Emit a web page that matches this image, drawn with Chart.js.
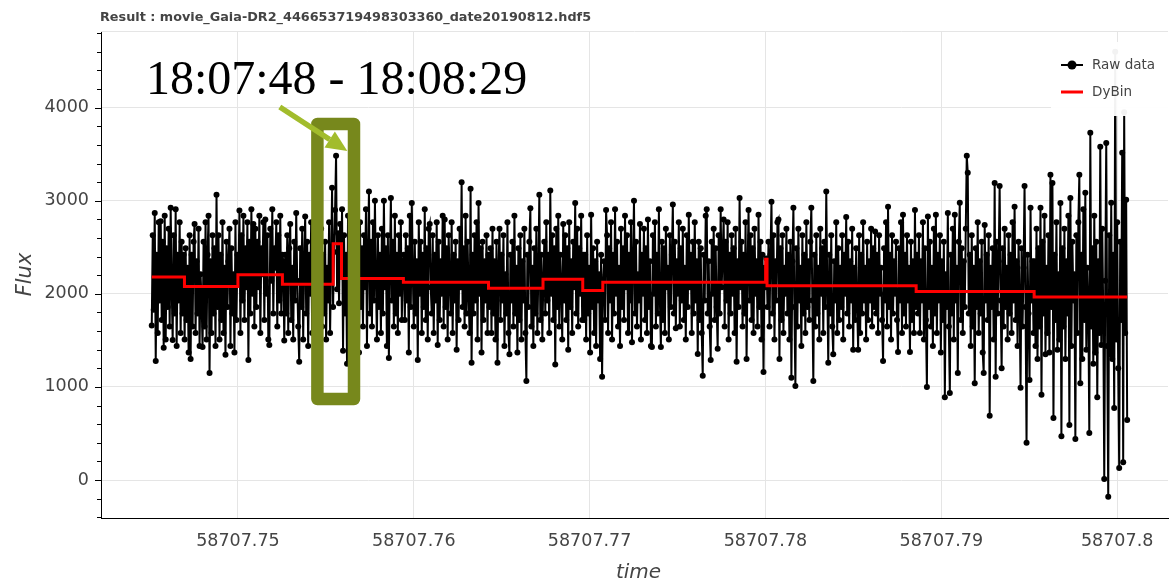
<!DOCTYPE html>
<html>
<head>
<meta charset="utf-8">
<title>Result : movie_Gaia-DR2_446653719498303360_date20190812.hdf5</title>
<script src="https://cdn.jsdelivr.net/npm/chart.js@4.4.1/dist/chart.umd.min.js"></script>
<style>
  html, body { margin: 0; padding: 0; background: #ffffff; }
  #wrap { position: relative; width: 1171px; height: 581px; }
</style>
</head>
<body>
<div id="wrap"><canvas id="lc" width="1171" height="581"></canvas></div>
<script>
// ---- texts ----
const plotTitle = 'Result : movie_Gaia-DR2_446653719498303360_date20190812.hdf5';
const burstLabel = '18:07:48 - 18:08:29';
const xAxisTitle = 'time';
const yAxisTitle = 'Flux';
const legendLabels = ['Raw data', 'DyBin'];

// ---- raw light curve (MJD, regular cadence) ----
const rawStart = 58707.74510;
const rawCadence = 0.00005666;
const rawFlux = [
  // 58707.7451 - 58707.7470
  1660, 2630, 1830, 2870, 1280, 2420, 1580, 2770, 1930, 2780,
  1720, 2560, 1420, 2840, 1510, 2490, 1860, 2700, 1650, 2925,
  2070, 1505, 2630, 1790, 2910, 1440, 2420, 1930, 2770, 1580,
  2560, 1790, 2420,
  // 58707.7470 - 58707.7500
  1510, 2490, 1720, 2280, 1370, 2630, 1300, 2420, 1650, 2560,
  2750, 1580, 2350, 1790, 2700, 1440, 2210, 1930, 1430, 2560,
  1650, 2770, 1510, 2420, 2840, 1150, 2350, 1580, 2630, 1790,
  2490, 1440, 3065, 1860, 2630, 1510, 2420, 1720, 2770, 1580,
  2280, 1345, 2560, 1860, 2350, 2700, 1440, 2490, 1790, 2210,
  1370, 2770, 1720, 2420,
  // 58707.7500 - 58707.7525
  2140, 2895, 1580, 2630, 1930, 2840, 1720, 2490, 2070, 2770,
  1290, 2560, 1790, 2910, 2000, 2750, 1650, 2700, 1860, 2560,
  2070, 2840, 1580, 2490, 2210, 2770, 1720, 2800, 2000, 2630,
  1510, 1450, 2700, 2140, 2910, 1790, 2490, 2280, 2770, 1650,
  2630, 1930, 2840, 1790, 2420,
  // 58707.7525 - 18:07:48
  2350, 1500, 2420, 1790, 2630, 1580, 2490, 2750, 1720, 2280,
  1510, 2560, 1930, 2870, 2140, 1650, 1270, 2490, 1860, 2700,
  1510, 2350, 2830, 1790, 2560, 1440, 2420, 2000, 2770, 1580,
  2210, 1860, 2630, 1370, 2490, 1400, 2350, 2000, 2700, 1650,
  2420, 1790, 2560, 1510, 2280, 1930, 2770, 1580, 2350, 3140,
  1860,
  // 18:07:48 - 18:08:29 (burst)
  2450, 2900, 3485, 2050, 2650, 1900, 2750, 2200,
  // 18:08:29 - 58707.7594
  2910, 1390, 2630, 1790, 2420, 1250, 2840, 1930, 2490, 1580,
  2700, 1720, 2350, 1510, 2980, 2000, 2560, 1370, 2770, 1860,
  2490, 1650, 2630, 2070, 2910, 1440, 2420, 3100, 1790, 2560,
  1650, 2770, 1930, 3000, 2140, 1510, 2630, 1860, 2420, 1580,
  2700, 1790, 3000, 2070, 2490, 1440, 2630, 1310, 2280, 3030,
  1930, 2560, 1650, 2840, 1790, 2420, 1580, 2630, 2000, 2770,
  1720, 2350,
  // 58707.7594 - 58707.7643
  2420, 1720, 2630, 1930, 2490, 1370, 2840, 1860, 2975, 2210,
  1650, 2560, 1790, 2350, 1290, 2770, 2000, 2560, 1580, 2420,
  1860, 2910, 1720, 2490, 1510, 2700, 2750, 2070, 1790, 2630,
  1580, 2420, 1930, 2770, 1450, 2560, 1720, 2350, 2000, 2840,
  1650, 2800, 1860, 2490, 1510, 2630, 2140, 1790, 2770, 1580,
  2420, 1930, 2560, 1400, 2350, 1720, 2700, 2070, 3200, 1860,
  2490, 1650, 2840, 1790, 2560, 2000, 1580, 3130, 1260, 2420,
  1790, 2630, 1930, 2770, 1510, 2975, 2000, 2490, 1370, 2560,
  1720, 2350, 1930, 2630, 1580, 2420,
  // 58707.7643 - 58707.7674
  1860, 2490, 1580, 2700, 1790, 2350, 1510, 2560, 1260, 2280,
  2700, 1720, 2420, 1930, 2630, 1440, 2210, 1790, 2770, 1580,
  1350, 2420, 1930, 2560, 1650, 2840, 1790, 2280, 1370, 2490,
  1720, 2630, 1510, 2350, 1930, 2700, 1580, 1065, 2420, 1860,
  2560, 2920, 1650, 2280, 1440, 2490, 1790, 2700, 1580, 2210,
  3065, 1720, 2420, 1510, 2140,
  // 58707.7674 - 58707.7696
  2560, 1790, 2770, 1930, 2420, 1580, 3110, 2000, 2630, 1720,
  2490, 1240, 2700, 1860, 2840, 1650, 2420, 2070, 1510, 2750,
  1930, 2630, 1720, 2490, 1400, 2770, 1860, 2350, 1580, 2560,
  2070, 2975, 1790, 2700, 1650, 2490, 2000, 2840, 1720, 2420,
  // 58707.7696 - 58707.7708
  1720, 2420, 1510, 2630, 1790, 2280, 1370, 2850, 1860, 2490,
  1580, 2350, 1440, 2560, 1930, 2210, 1300, 2420, 1110, 2140,
  // 58707.7708 - 58707.7800
  2350, 1720, 2900, 2630, 1580, 2490, 1930, 2770, 1510, 2420,
  1790, 2910, 2000, 2560, 1650, 2280, 1440, 2700, 1860, 2490,
  1720, 2840, 2070, 2630, 1580, 2420, 1930, 2770, 1480, 2350,
  3000, 1790, 2560, 1650, 2210, 1930, 2750, 1510, 2420, 2000,
  2700, 1720, 2490, 1580, 2800, 1860, 2350, 1440, 1430, 2630,
  2000, 2770, 1650, 2420, 1790, 2910, 1930, 1430, 2560, 1720,
  2490, 1580, 2700, 2070, 2280, 1510, 2630, 1860, 2420, 2960,
  1790, 2560, 1630, 2350, 2000, 2770, 1650, 2490, 1930, 2700,
  1720, 2280, 1510, 2630, 1860, 2850, 2070, 2420, 1580, 2560,
  1790, 2770, 1930, 2350, 1355, 2560, 1720, 2490, 1580, 1120,
  2420, 1930, 2840, 2910, 1790, 2350, 1650, 1290, 2560, 2000,
  2700, 1720, 2490, 1860, 1410, 2630, 1790, 2910, 2070, 2420,
  2800, 1650, 2560, 1930, 2770, 1510, 2420, 1790, 2630, 2000,
  2490, 1580, 2700, 1270, 2350, 1860, 3030, 2070, 2560, 1650,
  2420, 1790, 2770, 1300, 2280, 2900, 1930, 2630, 1720, 2490,
  1580, 2700, 2000, 2350, 1650, 2850, 1860, 2560, 1510, 2420,
  1160, 2280, 2070,
  // short bin at 58707.7800
  2380,
  // 58707.7801 - 58707.7886
  1860, 2560, 1650, 2420, 2990, 1790, 2630, 1510, 2350, 1930,
  2770, 2800, 1300, 2490, 1720, 2630, 1580, 2280, 2000, 2700,
  1790, 2420, 1510, 2560, 1100, 2350, 2925, 1860, 1010, 2490,
  1650, 2700, 1930, 2280, 1440, 2630, 1790, 2420, 1580, 2770,
  1860, 2350, 1720, 2560, 2925, 1930, 1065, 2420, 1650, 2630,
  1790, 2280, 1510, 2700, 2000, 2490, 1580, 2560, 1860, 3100,
  2070, 1260, 2420, 1790, 2630, 1650, 1350, 2350, 1930, 2770,
  1580, 2490, 1720, 2280, 1860, 2630, 1510, 2420, 2000, 2825,
  1790, 2560, 1650, 2350, 1930, 2700, 1400, 2280, 1720, 2490,
  1860, 1400, 2630, 1580, 2420, 1790, 2770, 1930, 2280, 1510,
  2560, 1720, 2350, 1930, 2700, 1650, 2490, 1860, 2670, 1790,
  2420, 1580, 2630, 2000, 2280, 1720, 1280, 2490, 1930, 2770,
  1650, 2935, 1860, 2420, 1510, 2630, 1790, 2350, 2000, 2560,
  1720, 1375, 2490, 1930, 2770, 1580, 2850, 1790, 2420, 1650,
  2630, 1930, 2280, 1375, 2560, 1720, 2350, 1580, 2900, 1860,
  // 58707.7886 - 58707.7953
  2420, 1790, 2630, 1580, 2350, 1930, 2770, 1510, 2490, 1720,
  1000, 2830, 1860, 2560, 1650, 2280, 1440, 2700, 1790, 2850,
  1580, 2420, 1930, 2630, 1370, 2350, 1720, 2560, 890, 2210,
  1860, 2870, 1650, 935, 2420, 1790, 2700, 1510, 2850, 1930,
  2280, 1150, 2560, 2980, 1720, 2490, 1580, 2350, 1860, 2700,
  3485, 3300, 1790, 2420, 1440, 2630, 1650, 2280, 1040, 2490,
  1860, 2770, 1580, 2350, 1790, 2560, 1370, 1150, 2740, 1930,
  2420, 1720, 2630, 690, 2280, 1860, 2490, 1510, 3190, 1110,
  2560, 1790, 2350, 3160, 1930, 1200, 2490, 1650, 2700, 1860,
  2280, 1510, 2630, 1790, 2420, 1580, 2770, 1930, 2935, 1720,
  2350, 1440, 2560, 1930, 990, 2490, 1650, 2280, 3160, 1860,
  400, 2420, 1790, 1075, 2925, 1930, 2350, 1580,
  // 58707.7953 - 58707.8006
  2350, 1440, 2700, 1300, 2490, 1650, 2925, 915, 2560, 1790,
  2840, 1350, 2280, 1580, 2630, 1370, 3280, 1860, 3190, 665,
  2420, 1720, 2770, 1400, 2210, 1510, 2975, 470, 2490, 1650,
  2700, 1300, 2350, 1790, 2840, 590, 3030, 1440, 2560, 1930,
  2210, 440, 2630, 1580, 2770, 3280, 1040, 2420, 1300, 2910,
  1720, 3085, 1400, 2280, 1860, 505, 3730, 1650, 2490, 1250,
  2840, 1370, 2560, 890, 2350, 1580, 3580, 1450, 2700, 1790,
  10, 2140, 3620, 1440, -180, 2630, 1350, 2980, 1300, 2420,
  775, 4600, 1510, 2770, 1200, 130, 2560, 1720, 3515, 190,
  3950, 1580, 3010, 645
];

// ---- dynamic binning (bin edges in MJD, mean flux per bin) ----
const binEdges = [
  58707.74510, 58707.74696, 58707.75000, 58707.75253, 58707.755417, 58707.755891,
  58707.75941, 58707.76425, 58707.76735, 58707.76961, 58707.77075, 58707.78001,
  58707.78009, 58707.78857, 58707.79528, 58707.80057
];
const binFlux = [2180, 2078, 2204, 2104, 2538, 2166, 2126, 2061, 2158, 2035, 2126, 2373, 2088, 2025, 1965];

// ---- axes ----
const timeTicks = [58707.75, 58707.76, 58707.77, 58707.78, 58707.79, 58707.80];
const fluxTicks = [0, 1000, 2000, 3000, 4000];
const timeRange = [58707.742214, 58707.802892];
const fluxRange = [-408, 4824];

const FONT = '"DejaVu Sans", "Liberation Sans", sans-serif';
const TEXT_GREY = '#444444';

const rawPoints = rawFlux.map((f, i) => ({ x: rawStart + i * rawCadence, y: f }));
const binPoints = binFlux.map((f, k) => ({ x: binEdges[k], y: f }));
binPoints.push({ x: binEdges[binEdges.length - 1], y: binFlux[binFlux.length - 1] });

// decorations: title, axis titles, minor ticks, legend, burst highlight
const decorations = {
  id: 'decorations',
  afterDraw(chart) {
    const { ctx, chartArea: a, scales: { x, y } } = chart;
    ctx.save();

    // frame outline at the top
    ctx.strokeStyle = '#e5e5e5';
    ctx.lineWidth = 1;
    ctx.beginPath();
    ctx.moveTo(a.left, Math.round(a.top) + 0.5);
    ctx.lineTo(a.right, Math.round(a.top) + 0.5);
    ctx.stroke();

    // major / minor tick marks
    ctx.strokeStyle = '#000';
    ctx.beginPath();
    for (let v = -400; v <= 4800; v += 200) {
      const py = Math.round(y.getPixelForValue(v)) + 0.5;
      const len = v % 1000 === 0 ? 6 : 4;
      ctx.moveTo(a.left - len, py);
      ctx.lineTo(a.left + 1, py);
    }
    for (let n = 58707744; n <= 58707802; n += 2) {
      const px = Math.round(x.getPixelForValue(n / 1e6)) + 0.5;
      const len = n % 10 === 0 ? 6 : 4;
      ctx.moveTo(px, a.bottom);
      ctx.lineTo(px, a.bottom + 1 + len);
    }
    ctx.stroke();

    // plot title
    ctx.fillStyle = TEXT_GREY;
    ctx.font = 'bold 12.8px ' + FONT;
    ctx.textAlign = 'left';
    ctx.textBaseline = 'alphabetic';
    ctx.fillText(plotTitle, 100, 21);

    // axis titles
    ctx.font = 'italic 20px ' + FONT;
    ctx.textAlign = 'center';
    ctx.fillText(xAxisTitle, (a.left + a.right) / 2 + 4, 578);
    ctx.save();
    ctx.translate(31, (a.top + a.bottom) / 2);
    ctx.rotate(-Math.PI / 2);
    ctx.font = 'italic 21px ' + FONT;
    ctx.fillText(yAxisTitle, 0, 0);
    ctx.restore();

    // legend (top right, semi-transparent box)
    ctx.fillStyle = 'rgba(255,255,255,0.95)';
    ctx.fillRect(1051, 42, a.right - 1051, 74);
    ctx.strokeStyle = '#000';
    ctx.lineWidth = 2;
    ctx.beginPath(); ctx.moveTo(1061, 65); ctx.lineTo(1083, 65); ctx.stroke();
    ctx.fillStyle = '#000';
    ctx.beginPath(); ctx.arc(1072, 65, 4.5, 0, Math.PI * 2); ctx.fill();
    ctx.strokeStyle = '#ff0000';
    ctx.lineWidth = 3;
    ctx.beginPath(); ctx.moveTo(1061, 92); ctx.lineTo(1083, 92); ctx.stroke();
    ctx.fillStyle = TEXT_GREY;
    ctx.font = '13.5px ' + FONT;
    ctx.textAlign = 'left';
    ctx.textBaseline = 'middle';
    ctx.fillText(legendLabels[0], 1092, 65);
    ctx.fillText(legendLabels[1], 1092, 92);

    // burst window highlight box
    const bx0 = x.getPixelForValue(58707.754520), bx1 = x.getPixelForValue(58707.756601);
    const by0 = y.getPixelForValue(3825), by1 = y.getPixelForValue(870);
    ctx.strokeStyle = '#77881c';
    ctx.lineWidth = 12.5;
    ctx.lineJoin = 'round';
    ctx.strokeRect(bx0, by0, bx1 - bx0, by1 - by0);

    // arrow pointing to the burst
    const tx = x.getPixelForValue(58707.752382), ty = y.getPixelForValue(4007);
    const hx = x.getPixelForValue(58707.756221), hy = y.getPixelForValue(3535);
    const ang = Math.atan2(hy - ty, hx - tx);
    const headLen = 21, headHalf = 9.5;
    const bxm = hx - headLen * Math.cos(ang), bym = hy - headLen * Math.sin(ang);
    ctx.strokeStyle = '#a2bc2c';
    ctx.fillStyle = '#a2bc2c';
    ctx.lineWidth = 5.5;
    ctx.lineCap = 'butt';
    ctx.beginPath(); ctx.moveTo(tx, ty); ctx.lineTo(bxm, bym); ctx.stroke();
    ctx.beginPath();
    ctx.moveTo(hx, hy);
    ctx.lineTo(bxm - headHalf * Math.sin(ang), bym + headHalf * Math.cos(ang));
    ctx.lineTo(bxm + headHalf * Math.sin(ang), bym - headHalf * Math.cos(ang));
    ctx.closePath();
    ctx.fill();

    // burst time label
    ctx.fillStyle = '#000';
    ctx.font = '48px "Liberation Serif", "Times New Roman", serif';
    ctx.textAlign = 'left';
    ctx.textBaseline = 'alphabetic';
    ctx.fillText(burstLabel, x.getPixelForValue(58707.744766), y.getPixelForValue(4144));

    ctx.restore();
  }
};

new Chart(document.getElementById('lc'), {
  type: 'line',
  data: {
    datasets: [
      {
        label: legendLabels[0],
        data: rawPoints,
        borderColor: '#000000',
        backgroundColor: '#000000',
        borderWidth: 2,
        pointRadius: 3,
        pointBorderWidth: 0,
        pointBackgroundColor: '#000000',
        pointHoverRadius: 0,
        tension: 0,
        order: 2
      },
      {
        label: legendLabels[1],
        data: binPoints,
        borderColor: '#ff0000',
        borderWidth: 3,
        pointRadius: 0,
        pointHoverRadius: 0,
        stepped: 'before',
        order: 1
      }
    ]
  },
  options: {
    responsive: false,
    animation: false,
    devicePixelRatio: 1,
    events: [],
    layout: { padding: { top: 31, right: 0, bottom: 0, left: 0 } },
    plugins: {
      legend: { display: false },
      tooltip: { enabled: false },
      title: { display: false }
    },
    scales: {
      x: {
        type: 'linear',
        min: timeRange[0],
        max: timeRange[1],
        afterBuildTicks: s => { s.ticks = timeTicks.map(v => ({ value: v })); },
        afterFit: s => { s.height = 63; },
        ticks: {
          callback: v => String(v),
          font: { family: FONT, size: 17.5 },
          color: TEXT_GREY,
          padding: 13,
          maxRotation: 0,
          autoSkip: false
        },
        grid: { color: '#e5e5e5', lineWidth: 1, drawTicks: false },
        border: { color: '#000000', width: 1 }
      },
      y: {
        type: 'linear',
        min: fluxRange[0],
        max: fluxRange[1],
        afterBuildTicks: s => { s.ticks = fluxTicks.map(v => ({ value: v })); },
        afterFit: s => { s.width = 101; },
        ticks: {
          callback: v => String(v),
          font: { family: FONT, size: 17.5 },
          color: TEXT_GREY,
          padding: 12
        },
        grid: { color: '#e5e5e5', lineWidth: 1, drawTicks: false },
        border: { color: '#000000', width: 1 }
      }
    }
  },
  plugins: [decorations]
});
</script>
</body>
</html>
